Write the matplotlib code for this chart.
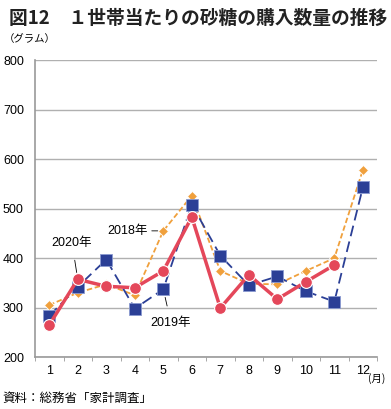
import numpy as np
import matplotlib.pyplot as plt

plt.rcParams['font.family'] = ['Liberation Sans', 'Noto Sans CJK JP', 'DejaVu Sans']

months = ['1', '2', '3', '4', '5', '6', '7', '8', '9', '10', '11', '12']
y2018 = [305, 330, 347, 325, 455, 526, 374, 348, 347, 374, 400, 578]
y2019 = [283, 342, 397, 298, 337, 508, 405, 345, 363, 333, 312, 543]
y2020 = [265, 357, 343, 340, 374, 483, 299, 366, 317, 352, 386]

fig = plt.figure(figsize=(3.91, 4.09), dpi=100)
ax = fig.add_axes([0.0895, 0.127, 0.875, 0.726])

x = np.arange(1, 13)
ax.plot(x, y2018, color='#f0a03c', ls=(0, (3, 1.5)), lw=1.3, marker='D',
        markersize=5, markeredgecolor='white', markeredgewidth=0.6, zorder=3)
ax.plot(x, y2019, color='#2b3f96', ls=(0, (6, 3)), lw=1.3, marker='s',
        markersize=8, markeredgecolor='#8a9ad0', markeredgewidth=0.6, zorder=4)
ax.plot(x[:11], y2020, color='#e4475a', lw=2.5, marker='o',
        markersize=8.5, markeredgecolor='white', markeredgewidth=0.8, zorder=5)

ax.set_xlim(0.5, 12.5)
ax.set_ylim(200, 800)
ax.set_yticks(range(200, 801, 100))
ax.set_xticks(x)
ax.set_xticklabels(months)
ax.set_xticks(np.arange(0.5, 12.6, 1), minor=True)
ax.tick_params(axis='x', which='major', length=0, labelsize=9, pad=6)
ax.tick_params(axis='x', which='minor', length=3, color='#999999')
ax.tick_params(axis='y', length=0, labelsize=9, pad=8)
ax.grid(axis='y', color='#b0b0b0', lw=1)
for s in ['top', 'right']:
    ax.spines[s].set_visible(False)
for s in ['left', 'bottom']:
    ax.spines[s].set_color('#999999')
    ax.spines[s].set_linewidth(1.2)

# labels with leader lines
jp = ['Liberation Sans', 'Noto Sans CJK JP']
ax.annotate('2018年', xy=(5, y2018[4]), xytext=(4.45, y2018[4]),
            fontsize=9, va='center', ha='right', family=jp,
            arrowprops=dict(arrowstyle='-', color='black', lw=0.6, shrinkA=1, shrinkB=4))
ax.annotate('2020年', xy=(2, y2020[1]), xytext=(1.8, 430),
            fontsize=9, va='center', ha='center', family=jp,
            arrowprops=dict(arrowstyle='-', color='black', lw=0.6, shrinkA=6, shrinkB=5))
ax.annotate('2019年', xy=(5, y2019[4]), xytext=(5.27, 269),
            fontsize=9, va='center', ha='center', family=jp,
            arrowprops=dict(arrowstyle='-', color='black', lw=0.6, shrinkA=6, shrinkB=6))

fig.text(0.022, 0.978, '図12　１世帯当たりの砂糖の購入数量の推移', fontsize=13.5,
         fontweight='bold', va='top', color='#222222', family=['Noto Sans CJK JP'])
fig.text(0.01, 0.905, '（グラム）', fontsize=7.5, va='center', family=['Noto Sans CJK JP'])
fig.text(0.94, 0.075, '(月)', fontsize=7.5, va='center', family=['Noto Sans CJK JP'])
fig.text(0.005, 0.027, '資料：総務省「家計調査」', fontsize=9, va='center',
         family=['Noto Sans CJK JP'])

fig.savefig('out.png', dpi=100)
